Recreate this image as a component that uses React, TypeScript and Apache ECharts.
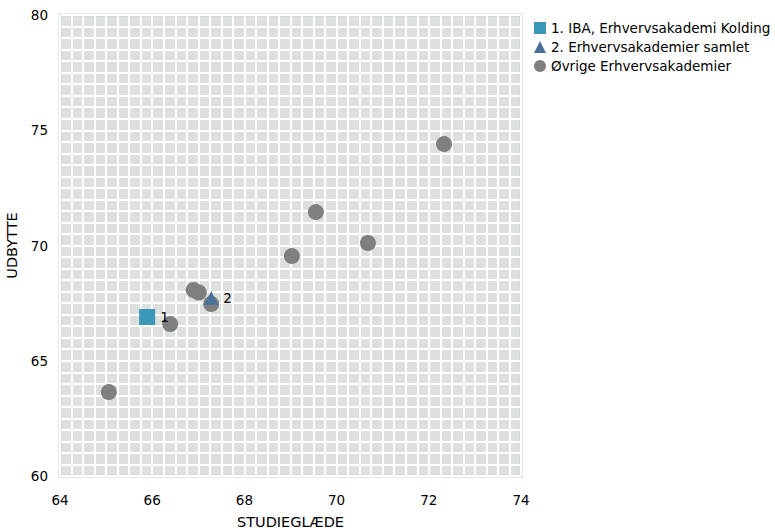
import React, { useEffect, useRef } from "react";
import * as echarts from "echarts";

const seriesNames = ["1. IBA, Erhvervsakademi Kolding", "2. Erhvervsakademier samlet", "Øvrige Erhvervsakademier"];
const ibaPoint = [65.89, 66.9];
const samletPoint = [67.28, 67.72];
const otherX = [65.06, 66.39, 66.9, 67.01, 67.28, 69.03, 69.55, 70.68, 72.33];
const otherY = [63.64, 66.59, 68.07, 67.96, 67.46, 69.54, 71.45, 70.11, 74.4];
const pointLabels = ["1", "2"];

const FONT = "DejaVu Sans";

export default function App() {
  const ref = useRef<HTMLDivElement>(null);
  useEffect(() => {
    document.body.style.margin = "0";
    const chart = echarts.init(ref.current!, null, { renderer: "svg" });
    const labelStyle = (txt: string) => ({
      show: true,
      position: "right" as const,
      formatter: txt,
      color: "#000",
      fontFamily: FONT,
      fontSize: 13.5,
      distance: 5,
    });
    chart.setOption({
      animation: false,
      textStyle: { fontFamily: FONT },
      grid: {
        left: 60,
        top: 15,
        width: 461,
        height: 461,
        containLabel: false,
        outerBoundsMode: "none",
        show: true,
        backgroundColor: "#dce1de",
        borderColor: "#c8d3c8",
        borderWidth: 3,
      },
      legend: {
        orient: "vertical",
        left: 529,
        top: 16,
        itemWidth: 12,
        itemHeight: 12,
        itemGap: 5,
        textStyle: { fontFamily: FONT, fontSize: 13.5, color: "#000" },
        data: [
          { name: seriesNames[0], icon: "rect" },
          { name: seriesNames[1], icon: "triangle" },
          { name: seriesNames[2], icon: "circle" },
        ],
      },
      xAxis: {
        type: "value",
        min: 64,
        max: 74,
        interval: 2,
        name: "STUDIEGLÆDE",
        nameLocation: "middle",
        nameGap: 38,
        nameTextStyle: { fontFamily: FONT, fontSize: 14.5, color: "#000" },
        axisLine: { show: false },
        axisTick: { show: false },
        axisLabel: { fontFamily: FONT, fontSize: 13.5, color: "#000", margin: 17 },
        splitLine: { show: true, lineStyle: { color: "#ffffff", width: 2 } },
        minorTick: { show: false, splitNumber: 8 },
        minorSplitLine: { show: true, lineStyle: { color: "#ffffff", width: 2 } },
      },
      yAxis: {
        type: "value",
        min: 60,
        max: 80,
        interval: 5,
        name: "UDBYTTE",
        nameLocation: "middle",
        nameGap: 37,
        nameTextStyle: { fontFamily: FONT, fontSize: 14.5, color: "#000" },
        axisLine: { show: false },
        axisTick: { show: false },
        axisLabel: { fontFamily: FONT, fontSize: 13.5, color: "#000", margin: 12 },
        splitLine: { show: true, lineStyle: { color: "#ffffff", width: 2 } },
        minorTick: { show: false, splitNumber: 10 },
        minorSplitLine: { show: true, lineStyle: { color: "#ffffff", width: 2 } },
      },
      series: [
        {
          name: seriesNames[2],
          type: "scatter",
          symbol: "circle",
          symbolSize: 16,
          itemStyle: { color: "#7f7f7f", opacity: 1 },
          data: otherX.map((x, i) => [x, otherY[i]]),
          z: 2,
        },
        {
          name: seriesNames[1],
          type: "scatter",
          symbol: "triangle",
          symbolSize: 14,
          itemStyle: { color: "#4a6f98", opacity: 1 },
          label: labelStyle(pointLabels[1]),
          data: [samletPoint],
          z: 4,
        },
        {
          name: seriesNames[0],
          type: "scatter",
          symbol: "rect",
          symbolSize: 16,
          itemStyle: { color: "#3b98b6", opacity: 1 },
          label: labelStyle(pointLabels[0]),
          data: [ibaPoint],
          z: 3,
        },
      ],
    });
    return () => chart.dispose();
  }, []);
  return <div ref={ref} style={{ width: 775, height: 531 }} />;
}
